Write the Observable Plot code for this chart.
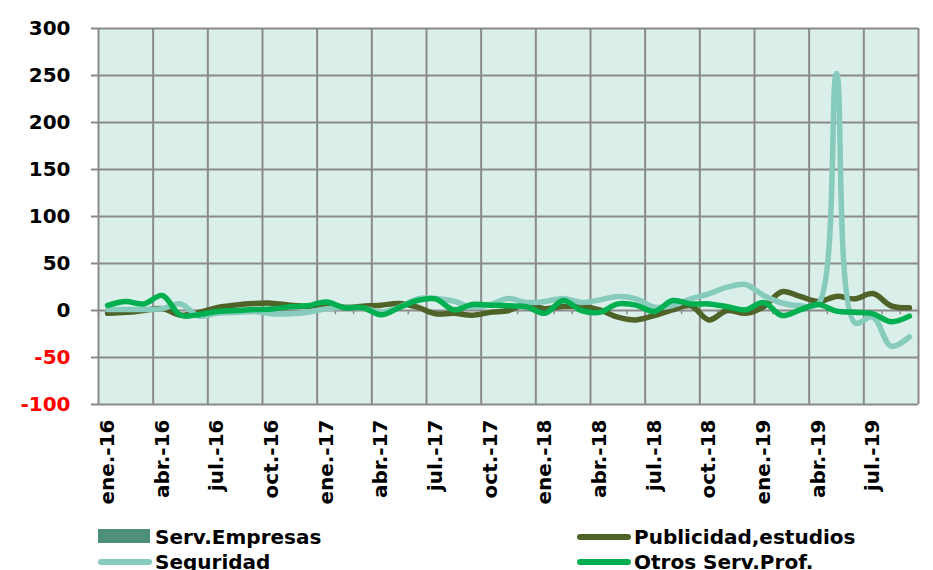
<!DOCTYPE html>
<html>
<head>
<meta charset="utf-8">
<script src="https://cdn.jsdelivr.net/npm/d3@7"></script>
<script src="https://cdn.jsdelivr.net/npm/@observablehq/plot@0.6"></script>
<style>
  body { margin: 0; background: #fff; }
  #wrap { position: relative; width: 933px; height: 570px; overflow: hidden; }
  .leg { position: absolute; font-family: "DejaVu Sans", Verdana, sans-serif; font-weight: bold; font-size: 20px; color: #000; white-space: nowrap; line-height: 1; }
  .sw { position: absolute; }
</style>
</head>
<body>
<div id="wrap"></div>
<script>
// Quarter tick labels (one every 3 months, starting ene.-16)
const tickLabels = ["ene.-16","abr.-16","jul.-16","oct.-16","ene.-17","abr.-17","jul.-17","oct.-17",
  "ene.-18","abr.-18","jul.-18","oct.-18","ene.-19","abr.-19","jul.-19"];
const nMonths = 45; // ene.-16 .. sep.-19
const yTicks = [-100, -50, 0, 50, 100, 150, 200, 250, 300];

const seriesNames = ["Serv.Empresas", "Publicidad,estudios", "Seguridad", "Otros Serv.Prof."];
const seriesColors = ["#4e8f7b", "#4f6228", "#86cbbb", "#00b050"];

const publicidad = [-3, -2, 0, 2, -5, -2, 3, 5.7, 7.4, 7.8, 5.7, 4.6, 6.7, 3.5, 4.6, 5.7, 7.4, 3.5,
  -3.5, -3, -5, -2, 0, 7, 2, 4.3, 4.3, 0.7, -7, -10, -5.3, 0.7, 5, -10, 0, -3, 4, 20, 15, 9.6, 15, 12.4, 18, 5, 2.8];
const seguridad = [1, 1, 1, 2, 7, -6, -3, -2, -1, -3.5, -3.5, -1.8, 1.8, 3.5, 2.8, -1.8, 3.5, 12.4,
  12.8, 10, 3.5, 6.4, 12.8, 8.5, 9.6, 12.8, 8.5, 11.3, 14.9, 12.4, 3.5, 5.3, 12.4, 17.7, 24.8, 27.7, 16, 8, 5, 7, 252, -13, -7, -38, -28];
const otros = [5.5, 9.5, 7, 16, -5, -4.5, -1, 0, 1, 1.5, 4, 5, 9, 3, 3, -4.6, 3, 10.6,
  12.4, 0.7, 6.4, 5.7, 5, 4, -3, 10.6, 0, -2, 7, 5.7, -1, 10.6, 7, 7, 4, 0.7, 8.5, -5.3, 0.7, 6.4, -0.7, -1.8, -3.5, -12, -6];

const toRows = arr => arr.map((v, i) => ({x: i + 0.5, v}));
const quarterBounds = d3.range(0, nMonths + 1, 3);
const monthBounds = d3.range(0, nMonths + 1);
const labelPos = tickLabels.map((_, k) => k * 3 + 0.5);
const grid = "#8a8a8a";

const chart = Plot.plot({
  width: 933, height: 515,
  marginLeft: 98, marginRight: 15, marginTop: 28, marginBottom: 111,
  x: {type: "linear", domain: [0, nMonths], axis: null, label: null},
  y: {domain: [-100, 300], axis: null, label: null},
  style: {background: "transparent", fontFamily: "DejaVu Sans, Verdana, sans-serif"},
  marks: [
    Plot.frame({fill: "#daeeea", stroke: null}),
    Plot.ruleY(yTicks, {stroke: grid, strokeWidth: 2}),
    Plot.ruleX(quarterBounds, {stroke: grid, strokeWidth: 2}),
    Plot.ruleX(monthBounds, {y1: 0, y2: -4.5, stroke: grid, strokeWidth: 1.5}),
    Plot.axisY({ticks: yTicks, tickSize: 7, tickFormat: () => "", label: null, stroke: grid, strokeWidth: 2}),
    Plot.text(yTicks, {x: 0, y: d => d, text: d => String(d), dx: -28, textAnchor: "end",
      fill: d => d < 0 ? "#ff0000" : "#000000", fontSize: 20, fontWeight: "bold"}),
    Plot.axisX({ticks: labelPos, tickFormat: d => tickLabels[Math.round((d - 0.5) / 3)], label: null,
      tickRotate: -90, tickSize: 0, tickPadding: 15, fontSize: 20, fontWeight: "bold", fill: "#000"}),
    Plot.line(toRows(publicidad), {x: "x", y: "v", stroke: seriesColors[1], strokeWidth: 5.5, curve: "catmull-rom"}),
    Plot.line(toRows(seguridad), {x: "x", y: "v", stroke: seriesColors[2], strokeWidth: 5.5, curve: "catmull-rom"}),
    Plot.line(toRows(otros), {x: "x", y: "v", stroke: seriesColors[3], strokeWidth: 5.5, curve: "catmull-rom"})
  ]
});
const wrap = document.getElementById("wrap");
wrap.appendChild(chart);

// Legend (HTML, below the SVG)
const legendItems = [
  {name: seriesNames[0], color: seriesColors[0], kind: "rect", left: 98, top: 528},
  {name: seriesNames[1], color: seriesColors[1], kind: "line", left: 577, top: 528},
  {name: seriesNames[2], color: seriesColors[2], kind: "line", left: 98, top: 553},
  {name: seriesNames[3], color: seriesColors[3], kind: "line", left: 577, top: 553}
];
legendItems.forEach(it => {
  const sw = document.createElement("div");
  sw.className = "sw";
  if (it.kind === "rect") {
    Object.assign(sw.style, {left: it.left + "px", top: (it.top + 1) + "px", width: "52px", height: "14px", background: it.color});
  } else {
    Object.assign(sw.style, {left: it.left + "px", top: (it.top + 6) + "px", width: "54px", height: "6px", background: it.color, borderRadius: "3px"});
  }
  wrap.appendChild(sw);
  const tx = document.createElement("div");
  tx.className = "leg";
  tx.textContent = it.name;
  Object.assign(tx.style, {left: (it.left + 57) + "px", top: (it.top - 1) + "px"});
  wrap.appendChild(tx);
});
</script>
</body>
</html>
